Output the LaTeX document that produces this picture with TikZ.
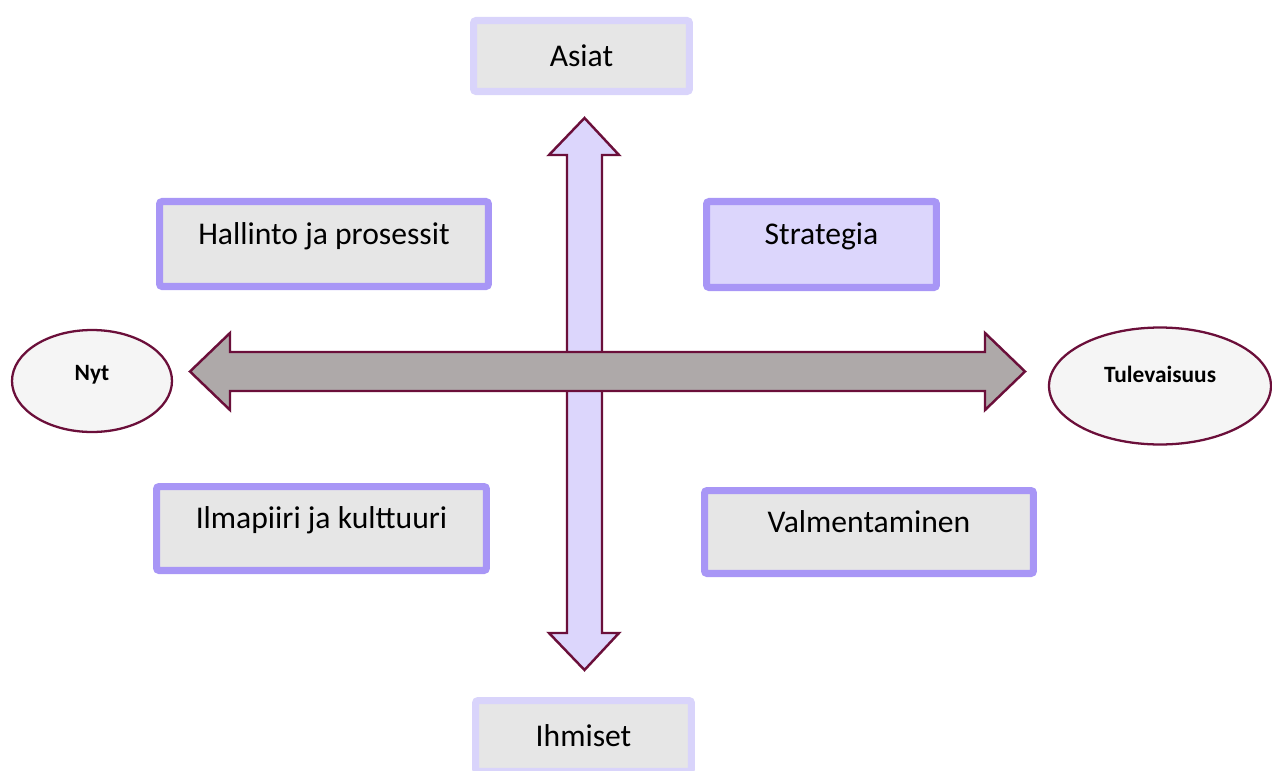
\documentclass[tikz,border=0pt]{standalone}
\usepackage{fontspec}
\setmainfont{Carlito}
\usepackage{tikz}
\usetikzlibrary{shapes.geometric}

\definecolor{boxgray}{HTML}{E6E6E6}
\definecolor{lightlilac}{HTML}{D9D4FB}
\definecolor{lilac}{HTML}{A896F6}
\definecolor{lavender}{HTML}{DCD6FC}
\definecolor{maroon}{HTML}{6B0F3A}
\definecolor{arrowgray}{HTML}{AEA9A9}
\definecolor{ovalfill}{HTML}{F5F5F5}

\begin{document}
\begin{tikzpicture}[x=0.02cm,y=-0.02cm,semithick]
  \tikzstyle{box}=[rectangle,rounded corners=1.5pt,line width=4pt,fill=boxgray,
                   font=\fontsize{18}{21}\selectfont,inner sep=0pt]
  \tikzstyle{endbox}=[box,draw=lightlilac,minimum width=4.32cm,minimum height=1.42cm]
  \tikzstyle{quadbox}=[box,draw=lilac,text height=0.75em,text depth=0.72em]
  \tikzstyle{time}=[ellipse,draw=maroon,line width=1.3pt,fill=ovalfill,
                    font=\fontsize{13.3}{15}\bfseries,inner sep=0pt]
  \tikzstyle{bigarrow}=[draw=maroon,line width=1.4pt,line join=miter]

  \useasboundingbox (0,0) rectangle (1272,771);

  % vertical axis
  \path[bigarrow,fill=lavender] (584.5,118) -- (619,155) -- (602,155) -- (602,633)
    -- (619,633) -- (584.5,670) -- (549,633) -- (567,633) -- (567,155) -- (549,155) -- cycle;
  % horizontal axis
  \path[bigarrow,fill=arrowgray] (190,371.5) -- (230,333) -- (230,352) -- (985,352)
    -- (985,333) -- (1025,371.5) -- (985,410) -- (985,391) -- (230,391) -- (230,410) -- cycle;

  \node[endbox] (asiat)   at (581.5,56)  {Asiat};
  \node[endbox] (ihmiset) at (583.5,736) {Ihmiset};

  \node[quadbox,minimum width=6.58cm,minimum height=1.7cm]  (hallinto) at (324,244)   {Hallinto ja prosessit};
  \node[quadbox,fill=lavender,minimum width=4.6cm,minimum height=1.72cm] (strategia) at (821.5,244.5) {Strategia};
  \node[quadbox,minimum width=6.6cm,minimum height=1.68cm]  (ilmapiiri) at (321.5,528.5) {Ilmapiiri ja kulttuuri};
  \node[quadbox,minimum width=6.58cm,minimum height=1.66cm] (valmennus) at (869,532) {Valmentaminen};

  \node[time,minimum width=3.2cm,minimum height=2.04cm,text height=1.2ex,text depth=0.66em]  (nyt) at (92,381) {Nyt};
  \node[time,minimum width=4.44cm,minimum height=2.34cm,text height=1.2ex,text depth=1.0em] (tulevaisuus) at (1160,386) {Tulevaisuus};
\end{tikzpicture}
\end{document}
